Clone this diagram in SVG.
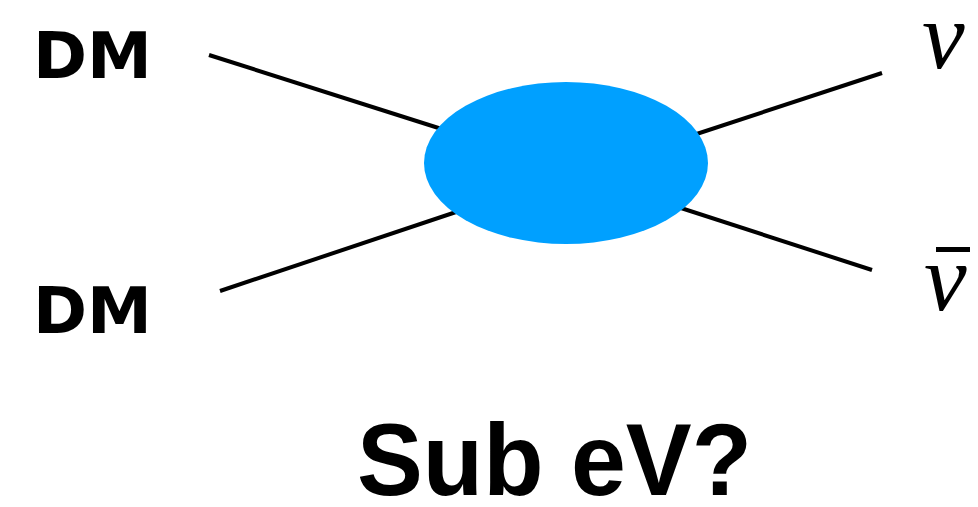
<svg xmlns="http://www.w3.org/2000/svg" width="978" height="507" viewBox="0 0 978 507">
<style>
.lbl{font-family:"DejaVu Sans","Liberation Sans",sans-serif;font-weight:bold;fill:#000}
.ttl{font-family:"Liberation Sans","Arial",sans-serif;font-weight:bold;fill:#000}
.nu{font-family:"Liberation Serif","DejaVu Serif",serif;font-style:italic;fill:#000}
.leg{stroke:#000;stroke-width:4;fill:none}
</style>
<rect width="978" height="507" fill="#fff"/>
<g id="connectors">
<line class="leg" x1="209" y1="55" x2="470" y2="138"/>
<line class="leg" x1="220" y1="291" x2="480" y2="204"/>
<line class="leg" x1="882" y1="73" x2="660" y2="146"/>
<line class="leg" x1="872" y1="270" x2="650" y2="198"/>
</g>
<g id="blob">
<ellipse cx="566" cy="163" rx="142" ry="81" fill="#00A0FF"/>
</g>
<g id="dm1"><text class="lbl" x="33" y="78" font-size="64" textLength="119" lengthAdjust="spacingAndGlyphs">DM</text></g>
<g id="dm2"><text class="lbl" x="33" y="333" font-size="64" textLength="119" lengthAdjust="spacingAndGlyphs">DM</text></g>
<g id="nu"><text class="nu" x="922" y="68" font-size="96">ν</text></g>
<g id="nubar">
<line x1="936" y1="249.5" x2="970" y2="249.5" stroke="#000" stroke-width="5"/>
<text class="nu" x="924" y="310" font-size="96">ν</text>
</g>
<g id="title"><text class="ttl" x="357" y="495" font-size="102" textLength="395" lengthAdjust="spacingAndGlyphs">Sub eV?</text></g>
</svg>
